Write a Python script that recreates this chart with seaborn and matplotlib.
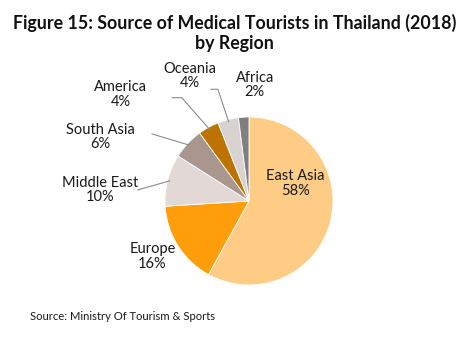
import matplotlib
matplotlib.use("Agg")
import matplotlib.pyplot as plt
import seaborn as sns
import numpy as np

regions = ["East Asia", "Europe", "Middle East", "South Asia", "America", "Oceania", "Africa"]
shares = [58, 16, 10, 6, 4, 4, 2]
hex_colors = ["#FFCC85", "#FF9D0A", "#E2D8D6", "#A8968F", "#BE7300", "#D8D3D1", "#7F7F7F"]

sns.set_theme(style="white")
plt.rcParams["font.family"] = ["Lato", "DejaVu Sans"]
colors = sns.color_palette(hex_colors)

W, H = 469, 339
fig = plt.figure(figsize=(W / 100, H / 100), dpi=100)
ax = fig.add_axes([0, 0, 1, 1])

cx, cy, r = 249, 201, 84  # pie centre and radius in pixels
wedges, _ = ax.pie(shares, colors=colors, startangle=90, counterclock=False,
                   radius=1, wedgeprops=dict(edgecolor="white", linewidth=0.6))
ax.set_aspect("auto")
ax.set_xlim(-cx / r, (W - cx) / r)
ax.set_ylim((cy - H) / r, cy / r)
ax.axis("off")

# label placement (axes units, radius = 1) and optional leader path points
label_pos = {
    "East Asia": (0.55, 0.21),
    "Europe": (-1.15, -0.66),
    "Middle East": (-1.77, 0.13),
    "South Asia": (-1.77, 0.76),
    "America": (-1.53, 1.27),
    "Oceania": (-0.70, 1.49),
    "Africa": (0.07, 1.38),
}
leaders = {
    "Middle East": [(-1.33, 0.13)],
    "South Asia": [(-1.16, 0.80)],
    "America": [(-0.92, 1.23), (-0.80, 1.23)],
    "Oceania": [(-0.46, 1.33), (-0.37, 1.33)],
}

for w, name, val in zip(wedges, regions, shares):
    tx, ty = label_pos[name]
    ax.text(tx, ty, f"{name}\n{val}%", ha="center", va="center",
            fontsize=10.5, color="#1a1a1a", linespacing=1.05)
    if name in leaders:
        mid = np.deg2rad((w.theta1 + w.theta2) / 2)
        end = (0.97 * np.cos(mid), 0.97 * np.sin(mid))
        pts = leaders[name] + [end]
        xs, ys = zip(*pts)
        ax.plot(xs, ys, color="#8c8c8c", lw=0.8, solid_capstyle="butt")

fig.text(0.5, 1 - 33 / H, "Figure 15: Source of Medical Tourists in Thailand (2018)\nby Region",
         ha="center", va="center", fontsize=12.8, fontweight="bold", color="#111111",
         linespacing=1.2)
fig.text(30 / W, 1 - 316 / H, "Source: Ministry Of Tourism & Sports", ha="left",
         va="center", fontsize=8.1, color="#1a1a1a")

fig.savefig("out.png", dpi=100, facecolor="white")
